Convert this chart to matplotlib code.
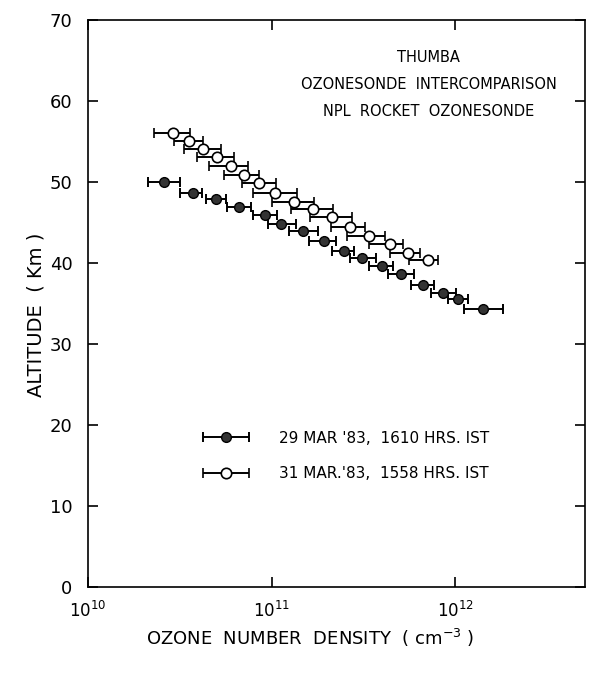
import matplotlib
matplotlib.use("Agg")
import matplotlib.pyplot as plt
from matplotlib.legend_handler import HandlerErrorbar
import numpy as np

# 29 MAR '83 flight (filled circles), densities in cm^-3
alt_29 = [50.0, 48.6, 47.9, 46.9, 46.0, 44.8, 43.9, 42.7, 41.5, 40.6, 39.6, 38.6, 37.3, 36.3, 35.5, 34.3]
dens_29 = [2.61e10, 3.73e10, 5.01e10, 6.66e10, 9.20e10, 1.13e11, 1.49e11, 1.92e11,
           2.49e11, 3.12e11, 3.98e11, 5.08e11, 6.66e11, 8.57e11, 1.04e12, 1.42e12]
low_29 = [2.13e10, 3.18e10, 4.42e10, 5.75e10, 7.95e10, 9.61e10, 1.24e11, 1.59e11,
          2.14e11, 2.66e11, 3.40e11, 4.28e11, 5.75e11, 7.40e11, 9.14e11, 1.11e12]
high_29 = [3.18e10, 4.17e10, 5.68e10, 7.78e10, 1.07e11, 1.36e11, 1.79e11, 2.23e11,
           2.81e11, 3.72e11, 4.59e11, 5.98e11, 7.70e11, 1.01e12, 1.18e12, 1.81e12]

# 31 MAR '83 flight (open circles)
alt_31 = [56.1, 55.1, 54.1, 53.1, 52.0, 50.9, 49.9, 48.6, 47.6, 46.7, 45.7, 44.4, 43.4, 42.4, 41.3, 40.4]
dens_31 = [2.90e10, 3.54e10, 4.23e10, 5.03e10, 6.01e10, 7.05e10, 8.60e10, 1.04e11,
           1.33e11, 1.69e11, 2.13e11, 2.66e11, 3.41e11, 4.40e11, 5.55e11, 7.09e11]
low_31 = [2.30e10, 2.96e10, 3.36e10, 3.95e10, 4.58e10, 5.53e10, 6.88e10, 7.92e10,
          1.00e11, 1.27e11, 1.62e11, 2.11e11, 2.57e11, 3.38e11, 4.41e11, 5.60e11]
high_31 = [3.61e10, 4.24e10, 5.28e10, 6.25e10, 7.49e10, 8.58e10, 1.06e11, 1.38e11,
           1.70e11, 2.15e11, 2.73e11, 3.24e11, 4.13e11, 5.18e11, 6.42e11, 8.01e11]

labels = ["29 MAR '83,  1610 HRS. IST", "31 MAR.'83,  1558 HRS. IST"]
title_lines = ["THUMBA", "OZONESONDE  INTERCOMPARISON", "NPL  ROCKET  OZONESONDE"]
x_ticks = [1e10, 1e11, 1e12]
x_ticklabels = ["$10^{10}$", "$10^{11}$", "$10^{12}$"]
y_ticks = [0, 10, 20, 30, 40, 50, 60, 70]

plt.rcParams['font.family'] = ['DejaVu Sans']

# Setup plot
fig = plt.figure(figsize=(5.93, 6.76), dpi=100)
ax = fig.add_axes([0.148, 0.132, 0.839, 0.838])

def xerr(d, lo, hi):
    d = np.array(d)
    return [d - np.array(lo), np.array(hi) - d]

ax.errorbar(dens_29, alt_29, xerr=xerr(dens_29, low_29, high_29), fmt='o',
            color='black', mfc='#333333', mec='black', ms=7, elinewidth=1.4,
            capsize=3.5, capthick=1.4, label=labels[0])
ax.errorbar(dens_31, alt_31, xerr=xerr(dens_31, low_31, high_31), fmt='o',
            color='black', mfc='white', mec='black', ms=7.5, mew=1.2, elinewidth=1.4,
            capsize=3.5, capthick=1.4, label=labels[1])

ax.set_xscale('log')
ax.set_xlim(1e10, 5.1e12)
ax.set_ylim(0, 70)
ax.set_xticks(x_ticks)
ax.set_xticklabels(x_ticklabels, fontsize=12)
ax.minorticks_off()
ax.set_yticks(y_ticks)
ax.set_yticklabels([str(v) for v in y_ticks], fontsize=13)
ax.tick_params(direction='in', length=7, width=1.2, top=True, right=True)
ax.tick_params(axis='x', pad=10)
ax.tick_params(axis='y', pad=11)
for s in ax.spines.values():
    s.set_linewidth(1.2)

ax.set_xlabel("OZONE  NUMBER  DENSITY  ( cm$^{-3}$ )", fontsize=13)
ax.xaxis.set_label_coords(0.447, -0.07)
ax.set_ylabel("ALTITUDE  ( Km )", fontsize=14)
ax.yaxis.set_label_coords(-0.085, 0.48)

# Title block inside the axes
for i, line in enumerate(title_lines):
    ax.text(0.685, 0.935 - i * 0.048, line, transform=ax.transAxes,
            ha='center', va='center', fontsize=10.5)

ax.legend(loc='upper left', bbox_to_anchor=(0.2, 0.3), frameon=False,
          fontsize=11, handlelength=3.3, handletextpad=1.8, labelspacing=1.35,
          handler_map={type(ax.containers[0]): HandlerErrorbar(xerr_size=1.5)})

# Save figure
plt.savefig("out.png", dpi=100)
